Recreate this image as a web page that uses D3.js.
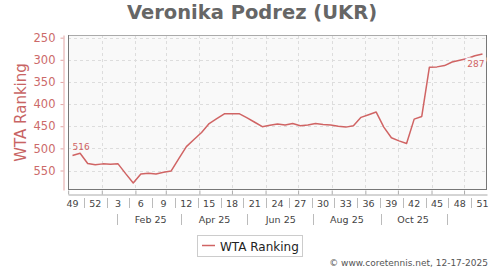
<!DOCTYPE html>
<html>
<head>
<meta charset="utf-8" />
<title>Veronika Podrez (UKR)</title>
<style>
  body { margin: 0; background: #fff; }
  text { font-family: "DejaVu Sans", sans-serif; }
</style>
<script src="https://cdnjs.cloudflare.com/ajax/libs/d3/7.8.5/d3.min.js"></script>
</head>
<body>
<script>
// weekly WTA ranking, week 49/2024 .. week 51/2025
var weekLabels = ["49","52","3","6","9","12","15","18","21","24","27","30","33","36","39","42","45","48","51"];
var monthLabels = ["Feb 25","Apr 25","Jun 25","Aug 25","Oct 25"];
var rankTicks = [250,300,350,400,450,500,550];
var rankings = [516,511,534,537,535,536,535,557,578,558,
                556,558,554,551,523,496,480,464,444,433,
                422,422,422,431,441,451,448,445,447,444,
                449,447,444,446,447,450,452,449,430,424,
                418,452,476,483,489,434,428,317,316,313,
                305,301,297,291,287];

var firstWeek = new Date(2024, 11, 5);
var dates = rankings.map(function(d, i){ return d3.timeDay.offset(firstWeek, 7 * i); });

var plotLeft = 68, plotRight = 487, plotTop = 35, plotBottom = 190;
var lineColor = "#d06464";

var svg = d3.select("body").append("svg")
    .attr("width", 500)
    .attr("height", 270);

var x = d3.scaleTime()
    .domain([dates[0], dates[dates.length - 1]])
    .range([72.5, 482.5]);
var xFull = x.copy().domain([x.invert(plotLeft), x.invert(plotRight)]).range([plotLeft, plotRight]);

var y = d3.scaleLinear()
    .domain([244, 594])
    .range([plotTop, plotBottom]);

// title
svg.append("text")
    .attr("x", 252).attr("y", 19)
    .attr("text-anchor", "middle")
    .style("font-size", "19.5px").style("font-weight", "bold")
    .attr("fill", "#666")
    .text("Veronika Podrez (UKR)");

// plot background
svg.append("rect")
    .attr("x", plotLeft).attr("y", plotTop)
    .attr("width", plotRight - plotLeft).attr("height", plotBottom - plotTop)
    .attr("fill", "#f9f9f9");

// grid
svg.append("g").selectAll("line")
    .data(rankTicks)
    .enter().append("line")
    .attr("x1", plotLeft).attr("x2", plotRight)
    .attr("y1", function(d){ return Math.round(y(d)) + 0.5; })
    .attr("y2", function(d){ return Math.round(y(d)) + 0.5; })
    .attr("stroke", "#ddd").attr("stroke-dasharray", "3,3");

var monthTicks = xFull.ticks(d3.timeMonth.every(1));
svg.append("g").selectAll("line")
    .data(monthTicks)
    .enter().append("line")
    .attr("x1", function(d){ return Math.round(xFull(d)) + 0.5; })
    .attr("x2", function(d){ return Math.round(xFull(d)) + 0.5; })
    .attr("y1", plotTop).attr("y2", plotBottom)
    .attr("stroke", "#ddd").attr("stroke-dasharray", "3,3");

// frame
svg.append("line").attr("x1", plotLeft).attr("x2", plotRight).attr("y1", plotTop + 0.5).attr("y2", plotTop + 0.5).attr("stroke", "#aaa");
svg.append("line").attr("x1", plotLeft + 0.5).attr("x2", plotLeft + 0.5).attr("y1", plotTop).attr("y2", plotBottom).attr("stroke", "#777");
svg.append("line").attr("x1", plotRight - 0.5).attr("x2", plotRight - 0.5).attr("y1", plotTop).attr("y2", plotBottom).attr("stroke", "#777");
svg.append("line").attr("x1", plotLeft).attr("x2", plotRight).attr("y1", plotBottom - 0.5).attr("y2", plotBottom - 0.5).attr("stroke", "#777");

// ranking line
var line = d3.line()
    .x(function(d, i){ return x(dates[i]); })
    .y(function(d){ return y(d); });

svg.append("path")
    .datum(rankings)
    .attr("d", line)
    .attr("fill", "none")
    .attr("stroke", lineColor)
    .attr("stroke-width", 1.5)
    .attr("stroke-linejoin", "round");

// first / last value labels
var n = rankings.length - 1;
svg.append("text")
    .attr("x", x(dates[0])).attr("y", y(rankings[0]) - 5)
    .style("font-size", "9px").attr("fill", lineColor)
    .text(rankings[0]);
svg.append("text")
    .attr("x", x(dates[n]) + 2).attr("y", y(rankings[n]) + 13)
    .attr("text-anchor", "end")
    .style("font-size", "9px").attr("fill", lineColor)
    .attr("stroke", "#f9f9f9").attr("stroke-width", 5).attr("paint-order", "stroke")
    .text(rankings[n]);

// y axis
var yAxis = svg.append("g")
    .attr("transform", "translate(63.5,0)")
    .call(d3.axisLeft(y).tickValues(rankTicks).tickSize(3).tickSizeOuter(0).tickPadding(5));
yAxis.selectAll("path, line").attr("stroke", "#e2a4a4");
yAxis.selectAll("text").attr("fill", "#cc6a6a").style("font-size", "11.5px").style("font-family", "DejaVu Sans");

svg.append("text")
    .attr("transform", "translate(26,112.5) rotate(-90)")
    .attr("text-anchor", "middle")
    .style("font-size", "15px")
    .attr("fill", "#c86464")
    .text("WTA Ranking");

// x axis: month ticks
var xAxis = svg.append("g")
    .attr("transform", "translate(0,194.5)")
    .call(d3.axisTop(xFull).tickValues(monthTicks).tickSize(4).tickSizeOuter(0).tickFormat(""));
xAxis.selectAll("path, line").attr("stroke", "#aaa");

// week labels with separators
var weekPos = weekLabels.map(function(d, k){ return x(dates[3 * k]); });
svg.append("g").selectAll("text")
    .data(weekLabels)
    .enter().append("text")
    .attr("x", function(d, k){ return weekPos[k]; })
    .attr("y", 206.5)
    .attr("text-anchor", "middle")
    .style("font-size", "9.5px")
    .attr("fill", "#444")
    .text(function(d){ return d; });
svg.append("g").selectAll("line")
    .data(weekPos.slice(1))
    .enter().append("line")
    .attr("x1", function(d, k){ return Math.round((d + weekPos[k]) / 2) + 0.5; })
    .attr("x2", function(d, k){ return Math.round((d + weekPos[k]) / 2) + 0.5; })
    .attr("y1", 198).attr("y2", 208)
    .attr("stroke", "#bbb");

// month labels with separators
var parseMonth = d3.timeParse("%b %y");
var monthStarts = monthLabels.map(function(d){ return parseMonth(d); });
svg.append("g").selectAll("text")
    .data(monthLabels)
    .enter().append("text")
    .attr("x", function(d, k){ return x(d3.timeDay.offset(monthStarts[k], 14)); })
    .attr("y", 222.5)
    .attr("text-anchor", "middle")
    .style("font-size", "9.5px")
    .attr("fill", "#444")
    .text(function(d){ return d; });
var monthSeps = monthStarts.map(function(m){ return d3.timeDay.offset(d3.timeMonth.offset(m, -1), 14); });
monthSeps.push(d3.timeDay.offset(d3.timeMonth.offset(monthStarts[monthStarts.length - 1], 1), 14));
svg.append("g").selectAll("line")
    .data(monthSeps)
    .enter().append("line")
    .attr("x1", function(d){ return Math.round(x(d)) + 0.5; })
    .attr("x2", function(d){ return Math.round(x(d)) + 0.5; })
    .attr("y1", 214).attr("y2", 225)
    .attr("stroke", "#bbb");

// legend
var legend = svg.append("g");
legend.append("rect")
    .attr("x", 197.5).attr("y", 235.5)
    .attr("width", 105).attr("height", 21)
    .attr("fill", "#fff").attr("stroke", "#ccc");
legend.append("line")
    .attr("x1", 202).attr("x2", 215)
    .attr("y1", 245.5).attr("y2", 245.5)
    .attr("stroke", lineColor).attr("stroke-width", 1.5);
legend.append("text")
    .attr("x", 220).attr("y", 250.5)
    .style("font-size", "12px")
    .attr("fill", "#222")
    .text("WTA Ranking");

// footer
svg.append("text")
    .attr("x", 488).attr("y", 266)
    .attr("text-anchor", "end")
    .style("font-size", "9px")
    .attr("fill", "#555")
    .text("\u00a9 www.coretennis.net, 12-17-2025");
</script>
</body>
</html>
